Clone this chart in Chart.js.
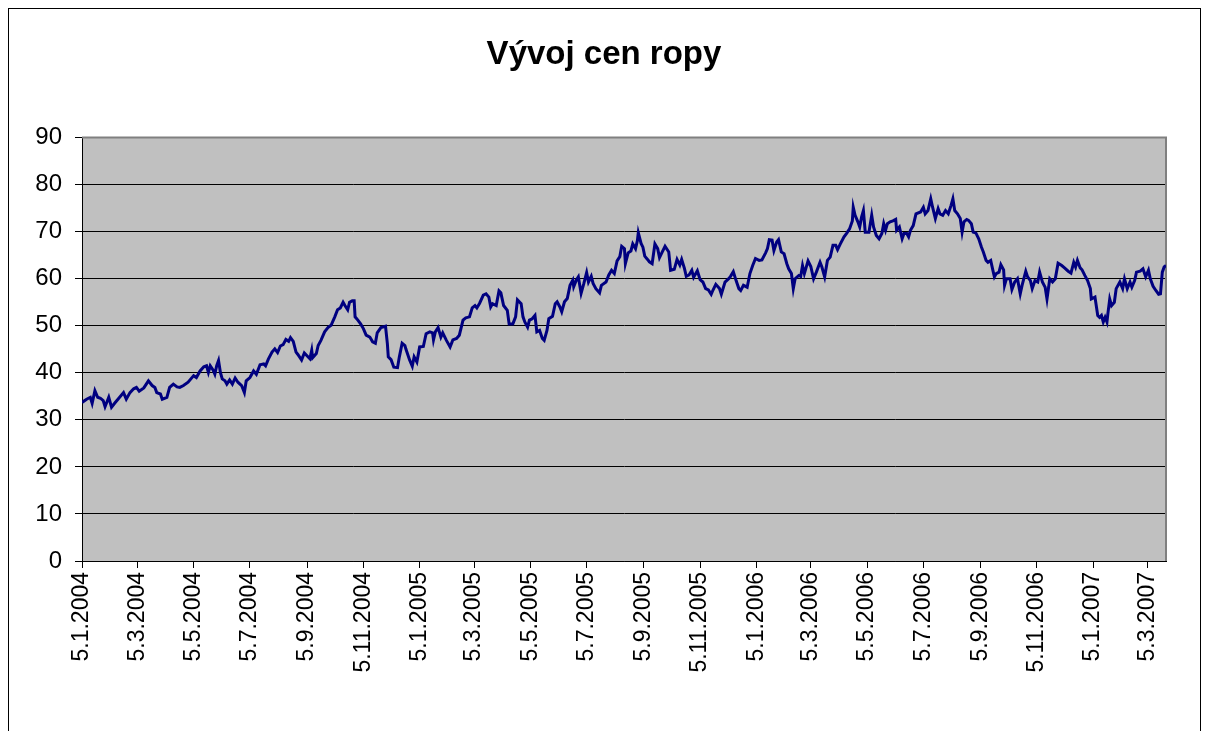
<!DOCTYPE html>
<html lang="cs">
<head>
  <meta charset="UTF-8" />
  <title>Vývoj cen ropy</title>
  <script src="https://cdn.jsdelivr.net/npm/chart.js"></script>
  <style>
    body { margin: 0; background: #fff; }
    #wrap { position: relative; width: 1208px; height: 731px; overflow: hidden; }
    #frame {
      position: absolute; left: 8px; top: 8px; width: 1191px; height: 800px;
      border: 1px solid #000; pointer-events: none;
    }
    #chart { position: absolute; left: 0; top: 0; }
  </style>
</head>
<body>
  <div id="wrap">
    <canvas id="chart" width="1208" height="731"></canvas>
    <div id="frame"></div>
  </div>

  <script>
    // days since 5.1.2004 and oil price (USD/barrel)
    const days = [
      0, 5, 9, 11, 14, 17, 20, 23, 25, 29, 32, 36, 39, 45, 48, 52, 56, 59, 62, 67,
      72, 76, 79, 81, 85, 87, 92, 95, 99, 103, 106, 110, 115, 121, 124, 128, 132, 135, 137, 139,
      142, 144, 146, 148, 150, 152, 155, 157, 160, 163, 166, 169, 173, 176, 178, 182, 186, 189, 193, 197,
      199, 202, 206, 209, 212, 215, 218, 221, 224, 226, 229, 232, 234,
      238, 241, 247, 249, 250, 254, 256, 259, 263, 267, 270, 274, 277, 280, 283, 285, 288, 290, 293, 295,
      296, 299, 302, 305, 308, 312, 315, 318, 320, 324, 329, 331, 332, 335, 338, 342, 344, 347, 350, 351,
      355, 358, 360, 363, 366, 370, 373, 377, 380, 381, 383, 386, 389, 391, 395, 399, 402, 406, 409, 413,
      416, 420, 423, 426, 428, 431, 435, 438, 441, 443, 445, 449, 452, 454, 457, 461, 463, 467, 470, 472,
      476, 478, 480, 483, 485, 488, 491, 493, 496, 499, 501, 504, 506, 510, 513, 515, 518, 520, 523, 526,
      529, 532, 533, 536, 538, 541, 544, 547, 549, 552, 554, 557, 561, 563, 568, 571, 574, 577, 580, 583,
      585, 588, 589, 592, 595, 597, 600, 602, 603, 606, 608, 610, 613, 615, 618, 621, 624, 626, 629, 632,
      636, 638, 642, 645, 648, 650, 653, 655, 658, 661, 663, 667, 670, 673, 676, 679, 682, 684, 687, 691,
      693, 697, 701, 703, 706,
      709, 712, 714, 717, 721, 724, 727, 730, 734, 737, 741, 743, 745, 748, 750, 753, 755, 758, 761, 764,
      766, 769, 771, 773, 777, 779, 781, 783, 787, 790, 793, 796, 800, 802, 805, 808, 811, 814, 817, 819,
      822, 826, 829, 832, 835, 836, 838, 841, 843, 845, 847, 849, 853, 856, 858, 861, 864, 867, 869, 871,
      873, 876, 879, 882, 883, 886, 889, 891, 894, 896, 898, 901, 904, 909, 912, 914, 917, 920, 922, 925,
      928, 930, 933, 936, 939, 942, 944,
      946, 949, 952, 954, 956, 959, 961, 964, 966, 969, 972, 975, 977, 980, 982, 985, 987, 989, 991, 994,
      996, 999, 1000, 1002, 1006, 1008, 1011, 1014, 1017, 1019, 1023, 1025, 1028, 1030, 1033, 1036, 1038, 1041, 1044, 1046,
      1049, 1052, 1055, 1058, 1062, 1065, 1069, 1072, 1075, 1077, 1079, 1082, 1084, 1087, 1090, 1093, 1094, 1098, 1101, 1103,
      1105, 1107, 1109, 1111, 1112, 1114, 1116, 1119, 1121, 1125, 1128, 1130, 1133, 1136, 1138, 1141, 1143, 1147, 1150, 1153,
      1156, 1158, 1161, 1164, 1167, 1169, 1171, 1173, 1175
    ];
    const prices = [
      33.7, 34.4, 34.8, 33.5, 36.2, 34.8, 34.6, 34.1, 32.8, 34.8, 32.7, 33.7, 34.4, 35.8, 34.4, 35.8, 36.6, 36.9, 36.1, 36.8,
      38.3, 37.3, 36.9, 35.8, 35.5, 34.4, 34.8, 36.9, 37.6, 37.0, 36.9, 37.3, 38.0, 39.4, 39.0, 40.4, 41.3, 41.5, 40.1, 41.5,
      40.6, 39.7, 41.5, 42.6, 40.1, 38.7, 38.3, 37.6, 38.5, 37.6, 38.9, 38.0, 37.3, 35.8, 38.3, 39.0, 40.4, 39.7, 41.7, 41.9,
      41.5, 42.9, 44.4, 45.1, 44.3, 45.7, 46.0, 47.1, 46.7, 47.5, 46.7, 44.4, 43.9,
      42.7, 44.2, 43.0, 44.8, 43.2, 44.1, 45.8, 46.9, 48.7, 49.7, 50.1, 51.9, 53.4, 53.8, 55.0, 54.3, 53.4, 55.0, 55.3, 55.3,
      51.9, 51.2, 50.4, 49.4, 48.0, 47.6, 46.6, 46.3, 48.5, 49.6, 49.9, 46.2, 43.4, 42.8, 41.2, 41.1, 43.4, 46.3, 45.8, 45.1,
      42.8, 41.4, 43.4, 42.3, 45.5, 45.6, 48.3, 48.7, 48.5, 47.0, 48.7, 49.6, 47.6, 48.5, 46.9, 45.5, 47.0, 47.3, 48.0, 51.2,
      51.7, 51.9, 53.8, 54.3, 53.8, 54.8, 56.5, 56.8, 56.1, 54.0, 54.7, 54.3, 57.4, 57.0, 54.3, 53.3, 50.4, 50.4, 51.9, 55.5,
      54.7, 51.9, 50.8, 49.7, 51.2, 51.5, 52.2, 48.7, 49.0, 47.3, 46.9, 49.0, 51.5, 52.0, 54.7, 55.1, 54.0, 53.0, 55.1, 55.8,
      58.6, 59.7, 58.3, 59.8, 60.4, 56.9, 59.0, 61.3, 59.3, 60.5, 59.0, 57.9, 57.0, 58.6, 59.3, 60.8, 61.8, 61.1, 63.8, 64.7,
      66.9, 66.4, 63.2, 65.5, 65.9, 67.4, 66.4, 68.1, 69.8, 67.5, 66.7, 64.8, 64.1, 63.6, 63.2, 67.4, 66.4, 64.5, 65.7, 66.9,
      65.7, 61.8, 62.0, 64.1, 62.9, 64.1, 62.2, 60.5, 60.8, 61.8, 60.3, 61.7, 59.8, 59.3, 57.9, 57.6, 56.7, 57.6, 58.8, 57.9,
      56.7, 59.3, 60.0, 60.5, 61.5,
      59.6, 57.9, 57.5, 58.6, 58.2, 61.1, 62.8, 64.3, 63.9, 64.0, 65.5, 66.4, 68.3, 68.2, 66.0, 67.8, 68.3, 65.7, 65.3, 63.2,
      62.1, 61.1, 57.9, 60.0, 60.7, 60.5, 62.8, 61.1, 63.8, 62.6, 60.0, 61.4, 63.5, 62.5, 60.4, 63.9, 64.6, 67.1, 67.1, 66.2,
      67.4, 68.9, 69.7, 70.6, 72.3, 75.2, 73.5, 72.1, 71.0, 73.1, 74.5, 69.9, 69.9, 73.5, 71.0, 69.2, 68.5, 69.6, 71.7, 70.3,
      71.7, 72.1, 72.3, 72.6, 70.3, 71.0, 68.5, 69.6, 69.6, 68.9, 70.3, 71.3, 73.8, 74.2, 75.2, 73.8, 74.5, 77.0, 75.2, 72.8,
      74.9, 73.8, 73.5, 74.5, 73.8, 75.6, 77.0,
      74.5, 73.8, 72.8, 69.9, 72.1, 72.6, 72.4, 71.7, 69.9, 69.7, 68.5, 66.7, 65.7, 63.9, 63.5, 63.9, 62.1, 60.4, 61.1, 61.4,
      63.0, 61.9, 58.6, 60.0, 60.0, 57.7, 59.3, 60.0, 56.8, 58.6, 61.6, 60.4, 59.6, 57.9, 59.6, 59.3, 61.4, 59.3, 58.2, 55.7,
      60.0, 59.3, 60.0, 63.3, 62.8, 62.3, 61.6, 61.2, 63.5, 62.5, 63.9, 62.3, 61.9, 60.7, 59.6, 57.9, 55.7, 56.1, 52.2, 51.8,
      52.2, 50.8, 51.8, 50.8, 52.6, 55.7, 54.3, 55.0, 57.9, 59.3, 57.9, 60.0, 57.9, 59.3, 58.2, 59.6, 61.4, 61.6, 62.1, 60.4,
      61.8, 60.0, 58.4, 57.5, 56.7, 56.8, 61.4, 62.5, 62.8
    ];
    const tickLabels = [
      '5.1.2004', '5.3.2004', '5.5.2004', '5.7.2004', '5.9.2004', '5.11.2004',
      '5.1.2005', '5.3.2005', '5.5.2005', '5.7.2005', '5.9.2005', '5.11.2005',
      '5.1.2006', '5.3.2006', '5.5.2006', '5.7.2006', '5.9.2006', '5.11.2006',
      '5.1.2007', '5.3.2007'
    ];
    const lastDay = 1175;

    // tick positions in days from the first label
    const toDate = s => { const [d, m, y] = s.split('.').map(Number); return Date.UTC(y, m - 1, d); };
    const start = toDate(tickLabels[0]);
    const tickDays = tickLabels.map(s => Math.round((toDate(s) - start) / 86400000));

    const points = days.map((d, i) => ({ x: d, y: prices[i] }));

    // grey plot area and its border, like the old Excel charts
    const plotArea = {
      id: 'plotArea',
      beforeDraw(chart) {
        const { ctx, chartArea: a } = chart;
        ctx.save();
        ctx.fillStyle = '#c0c0c0';
        ctx.fillRect(a.left, a.top, a.right - a.left, a.bottom - a.top);
        ctx.restore();
      },
      beforeDatasetsDraw(chart) {
        const { ctx, chartArea: a } = chart;
        ctx.save();
        ctx.strokeStyle = '#808080';
        ctx.lineWidth = 2;
        ctx.beginPath();
        ctx.moveTo(a.left, a.top);
        ctx.lineTo(a.right, a.top);
        ctx.lineTo(a.right, a.bottom);
        ctx.stroke();
        ctx.restore();
      }
    };

    Chart.defaults.font.family = 'Arial, "Liberation Sans", sans-serif';
    Chart.defaults.color = '#000';

    new Chart(document.getElementById('chart'), {
      type: 'line',
      data: {
        datasets: [{
          data: points,
          borderColor: '#000080',
          borderWidth: 3,
          pointRadius: 0,
          tension: 0
        }]
      },
      options: {
        responsive: false,
        animation: false,
        layout: { padding: 0 },
        plugins: {
          legend: { display: false },
          tooltip: { enabled: false },
          title: {
            display: true,
            text: 'Vývoj cen ropy',
            color: '#000',
            font: { size: 33, weight: 'bold' },
            padding: { top: 35, bottom: 63 }
          }
        },
        scales: {
          x: {
            type: 'linear',
            min: 0,
            max: lastDay,
            afterFit: s => { s.height = 170; },
            afterBuildTicks: s => { s.ticks = tickDays.map(v => ({ value: v })); },
            ticks: {
              autoSkip: false,
              minRotation: 90,
              maxRotation: 90,
              padding: 4,
              font: { size: 23 },
              callback: (v, i) => tickLabels[i]
            },
            grid: { drawOnChartArea: false, drawTicks: true, tickLength: 7, color: '#000' },
            border: { color: '#000', width: 1 }
          },
          y: {
            min: 0,
            max: 90,
            afterFit: s => { s.width = 82; },
            ticks: { stepSize: 10, padding: 13, font: { size: 24 } },
            grid: { color: '#000', lineWidth: 1, tickLength: 7, drawTicks: true },
            border: { color: '#000', width: 1 }
          },
          // empty right margin, so the title stays centred on the page
          right: {
            position: 'right',
            afterFit: s => { s.width = 42; },
            ticks: { display: false },
            grid: { display: false },
            border: { display: false }
          }
        }
      },
      plugins: [plotArea]
    });
  </script>
</body>
</html>
